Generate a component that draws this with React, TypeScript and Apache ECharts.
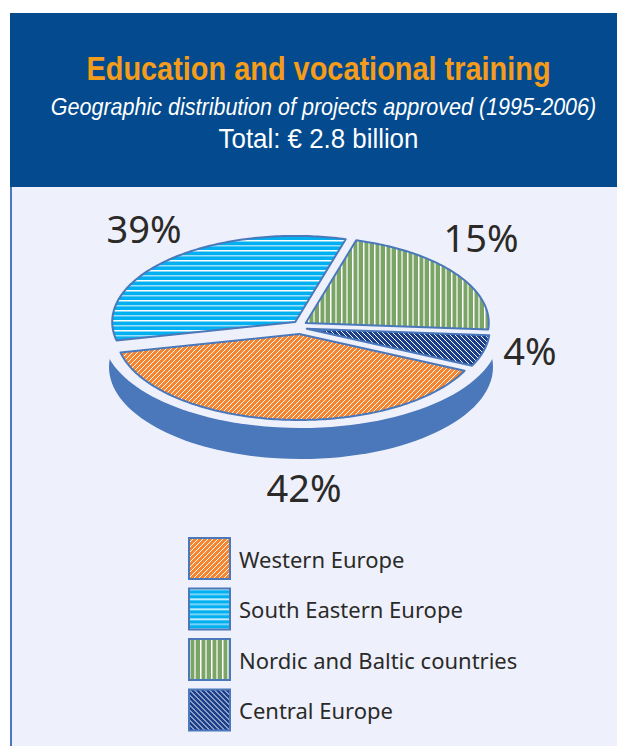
import React, { useEffect, useRef } from "react";
import * as echarts from "echarts";

const categories = ["Western Europe", "South Eastern Europe", "Nordic and Baltic countries", "Central Europe"];
const shares = [42, 39, 15, 4];

const W = 617;
const H = 746;
const BG = "#EEF1FB";
const OUTLINE = "#4A78BA";
const CX = 300;
const CY = 327;
const RX = 183;
const RY = 86;
const EXPLODE = 7;
const START = 14; // degrees, clockwise from east
const WARP = 28; // perspective of the tilted pie, degrees
const WARP_PHASE = 10;
const labelAt: number[][] = [[304, 487], [144, 228], [481, 237], [530, 350]];

function tile(w: number, h: number, bg: string, draw: (c: CanvasRenderingContext2D) => void) {
  const canvas = document.createElement("canvas");
  canvas.width = w;
  canvas.height = h;
  const c = canvas.getContext("2d")!;
  c.fillStyle = bg;
  c.fillRect(0, 0, w, h);
  draw(c);
  return { image: canvas, repeat: "repeat", imageWidth: w, imageHeight: h };
}

function diagonal(size: number, bg: string, up: boolean, lw: number) {
  return tile(size, size, bg, (c) => {
    c.strokeStyle = "#FFFFFF";
    c.lineWidth = lw;
    for (const k of [-size, 0, size]) {
      c.beginPath();
      if (up) {
        c.moveTo(k - 1, size + 1);
        c.lineTo(k + size + 1, -1);
      } else {
        c.moveTo(k - 1, -1);
        c.lineTo(k + size + 1, size + 1);
      }
      c.stroke();
    }
  });
}

function makePatterns() {
  return [
    diagonal(5, "#F7842E", true, 1),
    tile(2, 10, "#00B0F0", (c) => {
      c.fillStyle = "#FFFFFF";
      c.fillRect(0, 0, 2, 1.5);
      c.fillStyle = "#9ADFF9";
      c.fillRect(0, 5, 2, 1.5);
    }),
    tile(11, 2, "#7AA566", (c) => {
      c.fillStyle = "#FFFFFF";
      c.fillRect(0, 0, 1.5, 2);
      c.fillStyle = "#CADBC0";
      c.fillRect(5, 0, 2, 2);
    }),
    diagonal(5, "#1B3F8B", false, 1),
  ];
}

const warp = (deg: number) => deg + WARP * Math.sin(((deg + WARP_PHASE) * Math.PI) / 180);

function slice(index: number, value: number) {
  const total = shares.reduce((a, b) => a + b, 0);
  const before = shares.slice(0, index).reduce((a, b) => a + b, 0);
  const from = warp(START + (before / total) * 360);
  const to = warp(START + ((before + value) / total) * 360);
  const mid = (((from + to) / 2) * Math.PI) / 180;
  const ax = CX + EXPLODE * Math.cos(mid);
  const ay = CY + EXPLODE * Math.sin(mid);
  const pts: number[][] = [[ax, ay]];
  const n = Math.max(2, Math.ceil(to - from));
  for (let i = 0; i <= n; i++) {
    const a = ((from + ((to - from) * i) / n) * Math.PI) / 180;
    pts.push([ax + RX * Math.cos(a), ay + RY * Math.sin(a)]);
  }
  return pts;
}

export default function App() {
  const ref = useRef<HTMLDivElement>(null);
  useEffect(() => {
    const chart = echarts.init(ref.current!, undefined, { renderer: "svg" });
    const patterns = makePatterns();
    const style = (i: number) => ({ color: patterns[i], borderColor: OUTLINE, borderWidth: 2 });
    const heading = (text: string, x: number, y: number, scaleX: number, fill: string, font: string) => ({
      type: "text",
      x,
      y,
      scaleX,
      z: 5,
      style: { text, fill, font, align: "center", verticalAlign: "middle" },
    });
    chart.setOption({
      animation: false,
      graphic: [
        { type: "rect", z: -10, shape: { x: 10, y: 187, width: W - 10, height: H - 187 }, style: { fill: BG } },
        { type: "rect", z: -9, shape: { x: 10, y: 187, width: 2, height: H - 187 }, style: { fill: OUTLINE } },
        { type: "rect", z: -9, shape: { x: 10, y: 13, width: W - 10, height: 174 }, style: { fill: "#034B8E" } },
        { type: "ellipse", z: -8, shape: { cx: 301, cy: 367, rx: 192, ry: 92 }, style: { fill: OUTLINE } },
        { type: "ellipse", z: -7, shape: { cx: 301, cy: 335, rx: 198, ry: 93 }, style: { fill: BG } },
        heading("Education and vocational training", 318.5, 69, 0.876, "#F59C1A", "bold 33px 'Liberation Sans'"),
        heading("Geographic distribution of projects approved (1995-2006)", 323.5, 107, 0.936, "#FFFFFF", "italic 23px 'Liberation Sans'"),
        heading("Total: € 2.8 billion", 318.5, 139, 0.924, "#FFFFFF", "28px 'Liberation Sans'"),
      ],
      legend: {
        orient: "vertical",
        left: 188,
        top: 537,
        padding: 0,
        height: 205,
        itemWidth: 41,
        itemHeight: 41,
        itemGap: 7.5,
        icon: "rect",
        selectedMode: false,
        data: categories.map((name, i) => ({ name, itemStyle: style(i) })),
        textStyle: { fontFamily: "Noto Sans", fontSize: 22, color: "#2B2A29", padding: [0, 0, 4, 4] },
      },
      series: categories.map((name, i) => ({
        type: "custom",
        name,
        coordinateSystem: "none",
        data: [shares[i]],
        itemStyle: style(i),
        renderItem: (_p: unknown, api: any) => ({
          type: "group",
          children: [
            {
              type: "polygon",
              shape: { points: slice(i, api.value(0)) },
              style: { fill: patterns[i], stroke: OUTLINE, lineWidth: 2, lineJoin: "round" },
            },
            {
              type: "text",
              x: labelAt[i][0],
              y: labelAt[i][1],
              style: {
                text: `${api.value(0)}%`,
                align: "center",
                verticalAlign: "middle",
                fill: "#2B2A29",
                fontFamily: "Noto Sans",
                fontSize: 38,
              },
            },
          ],
        }),
      })),
    });
    return () => chart.dispose();
  }, []);
  return (
    <div
      ref={ref}
      style={{ position: "fixed", left: 0, top: 0, width: W, height: H, background: "#FFFFFF" }}
    />
  );
}
